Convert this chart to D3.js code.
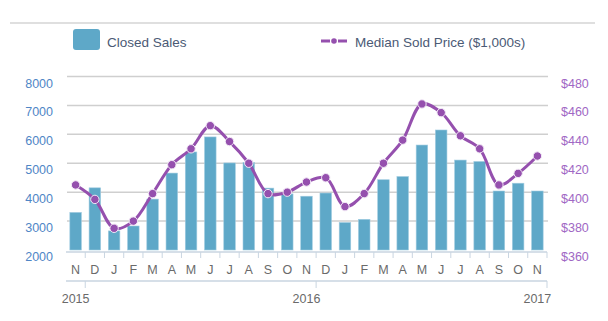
<!DOCTYPE html>
<html>
<head>
<meta charset="utf-8">
<script src="https://cdn.jsdelivr.net/npm/d3@7"></script>
<style>
  body { margin: 0; background: #fff; }
  svg { display: block; font-family: "Liberation Sans", Arial, sans-serif; }
</style>
</head>
<body>
<div id="chart"></div>
<script>
// Chart data
var months = ["N", "D", "J", "F", "M", "A", "M", "J", "J", "A", "S", "O", "N",
              "D", "J", "F", "M", "A", "M", "J", "J", "A", "S", "O", "N"];
var closedSales = [3300, 4150, 2660, 2830, 3760, 4660, 5390, 5910, 5010, 5030, 4140, 3940, 3860,
                   3970, 2950, 3060, 4430, 4540, 5630, 6150, 5110, 5060, 4040, 4310, 4040];
var medianPrice = [405, 395, 375, 380, 399, 419, 430, 446, 435, 420, 399, 400, 407,
                   410, 390, 399, 420, 436, 461, 455, 439, 430, 405, 413, 425];
var salesTicks = [2000, 3000, 4000, 5000, 6000, 7000, 8000];
var priceTicks = [360, 380, 400, 420, 440, 460, 480];
var years = [{ label: "2015", index: 0 }, { label: "2016", index: 12 }, { label: "2017", index: 24 }];

var w = 608;
var h = 321;
// plot area edges (named to avoid clashing with window.top)
var plotLeft = 66, plotRight = 547, plotTop = 76.5, plotBottom = 250;

var svg = d3.select("#chart")
    .append("svg")
    .attr("width", w)
    .attr("height", h);

// Scales
var xScale = d3.scaleBand()
    .domain(d3.range(months.length))
    .range([plotLeft, plotRight])
    .paddingInner(0.4)
    .paddingOuter(0.2);

var yLeft = d3.scaleLinear().domain([2000, 8000]).range([plotBottom, plotTop]);
var yRight = d3.scaleLinear().domain([360, 480]).range([plotBottom, plotTop]);

var step = xScale.step();
function bandStart(i) { return plotLeft + i * step; }
function bandCenter(i) { return plotLeft + (i + 0.5) * step; }

// Top border line
svg.append("line")
    .attr("x1", 10).attr("x2", 595)
    .attr("y1", 23).attr("y2", 23)
    .attr("stroke", "#d4d4d4")
    .attr("stroke-width", 1.5);

// Legend
svg.append("rect")
    .attr("x", 73).attr("y", 29)
    .attr("width", 27).attr("height", 21)
    .attr("rx", 3)
    .attr("fill", "#5ea8c8");
svg.append("text")
    .attr("x", 107).attr("y", 47)
    .attr("font-size", 13.5)
    .attr("fill", "#4b5a75")
    .text("Closed Sales");

svg.append("line")
    .attr("x1", 321).attr("x2", 347)
    .attr("y1", 41).attr("y2", 41)
    .attr("stroke", "#9550ae")
    .attr("stroke-width", 3)
    .attr("stroke-dasharray", "9,8,9");
svg.append("circle")
    .attr("cx", 334).attr("cy", 41).attr("r", 2.8)
    .attr("fill", "#9550ae");
svg.append("text")
    .attr("x", 355).attr("y", 47)
    .attr("font-size", 13.5)
    .attr("fill", "#4b5a75")
    .text("Median Sold Price ($1,000s)");

// Gridlines
svg.selectAll("line.grid")
    .data(salesTicks.slice(1))
    .enter()
    .append("line")
    .attr("class", "grid")
    .attr("x1", plotLeft + 1).attr("x2", plotRight + 1)
    .attr("y1", function(d) { return yLeft(d); })
    .attr("y2", function(d) { return yLeft(d); })
    .attr("stroke", "#cfcfcf")
    .attr("stroke-width", 1.5);

// Left axis labels
svg.selectAll("text.yleft")
    .data(salesTicks)
    .enter()
    .append("text")
    .attr("class", "yleft")
    .attr("x", 53)
    .attr("y", function(d) { return yLeft(d) + 11; })
    .attr("text-anchor", "end")
    .attr("font-size", 12.5)
    .attr("fill", "#4f86c6")
    .text(function(d) { return d; });

// Right axis labels
svg.selectAll("text.yright")
    .data(priceTicks)
    .enter()
    .append("text")
    .attr("class", "yright")
    .attr("x", 561)
    .attr("y", function(d) { return yRight(d) + 11; })
    .attr("font-size", 12.5)
    .attr("fill", "#a067c4")
    .text(function(d) { return "$" + d; });

// Bars
svg.selectAll("rect.bar")
    .data(closedSales)
    .enter()
    .append("rect")
    .attr("class", "bar")
    .attr("x", function(d, i) { return xScale(i); })
    .attr("y", function(d) { return yLeft(d); })
    .attr("width", xScale.bandwidth())
    .attr("height", function(d) { return plotBottom - yLeft(d); })
    .attr("fill", "#5ea8c8")
    .attr("stroke", "#9fcbe0")
    .attr("stroke-width", 0.6);

// Month axis
var axisColor = "#c9d5e1";
svg.append("line")
    .attr("x1", plotLeft).attr("x2", plotRight)
    .attr("y1", 252).attr("y2", 252)
    .attr("stroke", axisColor).attr("stroke-width", 1.5);

svg.selectAll("line.mtick")
    .data(months)
    .enter()
    .append("line")
    .attr("class", "mtick")
    .attr("x1", function(d, i) { return bandStart(i + 1); })
    .attr("x2", function(d, i) { return bandStart(i + 1); })
    .attr("y1", 252).attr("y2", 258)
    .attr("stroke", axisColor).attr("stroke-width", 1);

svg.selectAll("text.month")
    .data(months)
    .enter()
    .append("text")
    .attr("class", "month")
    .attr("x", function(d, i) { return bandCenter(i); })
    .attr("y", 274)
    .attr("text-anchor", "middle")
    .attr("font-size", 12.5)
    .attr("fill", "#6a6a6a")
    .text(function(d) { return d; });

// Year axis
svg.append("line")
    .attr("x1", plotLeft).attr("x2", plotRight)
    .attr("y1", 281).attr("y2", 281)
    .attr("stroke", axisColor).attr("stroke-width", 1.5);

svg.selectAll("line.ytick")
    .data(years)
    .enter()
    .append("line")
    .attr("class", "ytick")
    .attr("x1", function(d) { return bandStart(d.index + 1); })
    .attr("x2", function(d) { return bandStart(d.index + 1); })
    .attr("y1", 281).attr("y2", 288)
    .attr("stroke", axisColor).attr("stroke-width", 1);

svg.selectAll("text.year")
    .data(years)
    .enter()
    .append("text")
    .attr("class", "year")
    .attr("x", function(d) { return bandCenter(d.index); })
    .attr("y", 303)
    .attr("text-anchor", "middle")
    .attr("font-size", 12.5)
    .attr("fill", "#6a6a6a")
    .text(function(d) { return d.label; });

// Median price line
var line = d3.line()
    .x(function(d, i) { return bandCenter(i); })
    .y(function(d) { return yRight(d); })
    .curve(d3.curveCatmullRom.alpha(0.5));

svg.append("path")
    .datum(medianPrice)
    .attr("d", line)
    .attr("fill", "none")
    .attr("stroke", "#9550ae")
    .attr("stroke-width", 3);

svg.selectAll("circle.dot")
    .data(medianPrice)
    .enter()
    .append("circle")
    .attr("class", "dot")
    .attr("cx", function(d, i) { return bandCenter(i); })
    .attr("cy", function(d) { return yRight(d); })
    .attr("r", 4.2)
    .attr("fill", "#9550ae")
    .attr("stroke", "#f3eaf7")
    .attr("stroke-width", 1);
</script>
</body>
</html>
